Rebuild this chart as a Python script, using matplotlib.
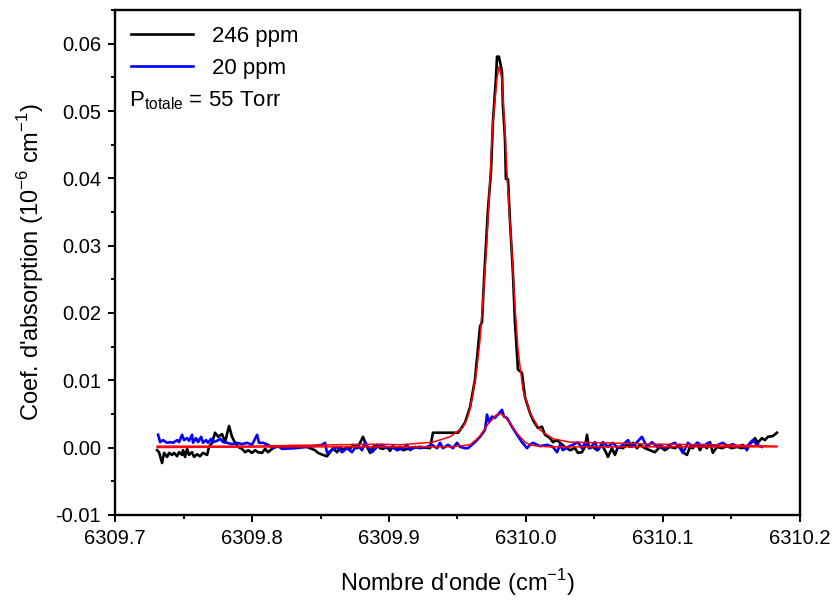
import matplotlib
matplotlib.use("Agg")
import matplotlib.pyplot as plt
from matplotlib.ticker import MultipleLocator, FormatStrFormatter

plt.rcParams['font.family'] = ['Liberation Sans', 'DejaVu Sans']
plt.rcParams['mathtext.fontset'] = 'custom'
plt.rcParams['mathtext.rm'] = 'Liberation Sans'

# 246 ppm spectrum
x_246 = [6309.7307, 6309.7321, 6309.7343, 6309.7358, 6309.7380, 6309.7394, 6309.7416, 6309.7431,
         6309.7453, 6309.7467, 6309.7489, 6309.7496, 6309.7511, 6309.7526, 6309.7540, 6309.7562,
         6309.7577, 6309.7599, 6309.7620, 6309.7642, 6309.7672, 6309.7686, 6309.7708, 6309.7730,
         6309.7752, 6309.7781, 6309.7803, 6309.7832, 6309.7854, 6309.7876, 6309.7898, 6309.7927,
         6309.7949, 6309.7971, 6309.8000, 6309.8022, 6309.8044, 6309.8073, 6309.8095, 6309.8117,
         6309.8146, 6309.8168, 6309.8278, 6309.8387, 6309.8460, 6309.8482, 6309.8518, 6309.8548,
         6309.8570, 6309.8591, 6309.8621, 6309.8643, 6309.8664, 6309.8694, 6309.8716, 6309.8737,
         6309.8767, 6309.8789, 6309.8810, 6309.8840, 6309.8862, 6309.8883, 6309.8913, 6309.8935,
         6309.8956, 6309.8986, 6309.9008, 6309.9029, 6309.9059, 6309.9081, 6309.9102, 6309.9154,
         6309.9227, 6309.9300, 6309.9321, 6309.9504, 6309.9519, 6309.9555, 6309.9592, 6309.9628,
         6309.9665, 6309.9679, 6309.9694, 6309.9716, 6309.9723, 6309.9745, 6309.9759, 6309.9781,
         6309.9789, 6309.9803, 6309.9825, 6309.9832, 6309.9847, 6309.9854, 6309.9869, 6309.9884,
         6309.9905, 6309.9920, 6309.9942, 6309.9971, 6309.9993, 6310.0030, 6310.0051, 6310.0088,
         6310.0117, 6310.0139, 6310.0176, 6310.0197, 6310.0227, 6310.0249, 6310.0285, 6310.0322,
         6310.0358, 6310.0380, 6310.0409, 6310.0431, 6310.0446, 6310.0460, 6310.0489, 6310.0519,
         6310.0555, 6310.0584, 6310.0599, 6310.0628, 6310.0650, 6310.0672, 6310.0708, 6310.0738,
         6310.0760, 6310.0781, 6310.0811, 6310.0833, 6310.0869, 6310.0906, 6310.0942, 6310.0979,
         6310.1015, 6310.1052, 6310.1088, 6310.1125, 6310.1146, 6310.1176, 6310.1198, 6310.1219,
         6310.1249, 6310.1271, 6310.1292, 6310.1322, 6310.1344, 6310.1365, 6310.1395, 6310.1431,
         6310.1468, 6310.1504, 6310.1541, 6310.1577, 6310.1614, 6310.1650, 6310.1672, 6310.1694,
         6310.1723, 6310.1745, 6310.1767, 6310.1803, 6310.1833]
y_246 = [-0.0004, -0.0007, -0.0023, -0.0008, -0.0014, -0.0008, -0.0011, -0.0008,
         -0.0013, -0.0007, -0.0011, -0.0004, -0.0014, -0.0002, -0.0011, -0.0007,
         -0.0014, -0.0010, -0.0013, -0.0008, -0.0011, 0.0001, 0.0007, 0.0022,
         0.0016, 0.0020, 0.0008, 0.0032, 0.0016, 0.0007, 0.0001, -0.0002,
         -0.0007, -0.0004, -0.0008, -0.0004, -0.0007, -0.0008, -0.0002, -0.0007,
         -0.0002, 0.0001, 0.0002, 0.0002, -0.0004, -0.0008, -0.0011, -0.0013,
         -0.0007, -0.0001, -0.0007, 0.0001, -0.0004, 0.0001, -0.0002, 0.0004,
         -0.0001, 0.0007, 0.0016, 0.0001, -0.0008, 0.0001, 0.0004, -0.0001,
         -0.0002, 0.0001, -0.0005, 0.0002, -0.0002, 0.0001, -0.0004, -0.0001,
         0.0001, -0.0001, 0.0022, 0.0022, 0.0026, 0.0037, 0.0060, 0.0101,
         0.0180, 0.0186, 0.0250, 0.0329, 0.0354, 0.0410, 0.0484, 0.0549,
         0.0581, 0.0581, 0.0559, 0.0508, 0.0459, 0.0399, 0.0399, 0.0335,
         0.0260, 0.0186, 0.0116, 0.0111, 0.0075, 0.0051, 0.0041, 0.0029,
         0.0031, 0.0019, 0.0014, 0.0008, 0.0011, 0.0007, 0.0001, -0.0004,
         -0.0001, -0.0008, -0.0007, 0.0001, 0.0019, -0.0001, 0.0001, -0.0004,
         0.0004, -0.0007, -0.0014, -0.0001, -0.0011, 0.0001, -0.0001, 0.0004,
         0.0001, 0.0007, -0.0001, 0.0004, -0.0001, -0.0004, -0.0007, 0.0001,
         -0.0004, 0.0001, -0.0001, 0.0004, -0.0007, -0.0011, 0.0001, -0.0001,
         0.0007, -0.0004, 0.0004, -0.0001, 0.0008, -0.0008, 0.0001, -0.0001,
         0.0002, -0.0001, 0.0001, -0.0001, 0.0002, 0.0008, 0.0014, 0.0007,
         0.0014, 0.0011, 0.0016, 0.0017, 0.0022]

# 20 ppm spectrum
x_20 = [6309.7314, 6309.7329, 6309.7350, 6309.7380, 6309.7402, 6309.7423, 6309.7453, 6309.7467,
        6309.7489, 6309.7504, 6309.7526, 6309.7540, 6309.7562, 6309.7569, 6309.7591, 6309.7606,
        6309.7628, 6309.7642, 6309.7664, 6309.7679, 6309.7701, 6309.7715, 6309.7745, 6309.7767,
        6309.7789, 6309.7818, 6309.7854, 6309.7891, 6309.7927, 6309.7964, 6309.8000, 6309.8037,
        6309.8051, 6309.8080, 6309.8117, 6309.8153, 6309.8190, 6309.8219, 6309.8314, 6309.8409,
        6309.8511, 6309.8533, 6309.8548, 6309.8584, 6309.8621, 6309.8657, 6309.8694, 6309.8730,
        6309.8767, 6309.8803, 6309.8825, 6309.8847, 6309.8876, 6309.8913, 6309.8949, 6309.8986,
        6309.9022, 6309.9059, 6309.9102, 6309.9132, 6309.9154, 6309.9190, 6309.9227, 6309.9278,
        6309.9314, 6309.9351, 6309.9373, 6309.9394, 6309.9431, 6309.9467, 6309.9497, 6309.9519,
        6309.9555, 6309.9577, 6309.9606, 6309.9628, 6309.9665, 6309.9701, 6309.9716, 6309.9730,
        6309.9752, 6309.9774, 6309.9796, 6309.9825, 6309.9840, 6309.9862, 6309.9898, 6309.9935,
        6309.9971, 6310.0008, 6310.0030, 6310.0051, 6310.0103, 6310.0154, 6310.0197, 6310.0227,
        6310.0249, 6310.0270, 6310.0307, 6310.0343, 6310.0380, 6310.0409, 6310.0431, 6310.0468,
        6310.0504, 6310.0526, 6310.0562, 6310.0599, 6310.0635, 6310.0672, 6310.0708, 6310.0745,
        6310.0774, 6310.0811, 6310.0847, 6310.0884, 6310.0920, 6310.0957, 6310.0979, 6310.1015,
        6310.1052, 6310.1088, 6310.1125, 6310.1146, 6310.1183, 6310.1219, 6310.1256, 6310.1292,
        6310.1329, 6310.1365, 6310.1402, 6310.1438, 6310.1475, 6310.1511, 6310.1548, 6310.1584,
        6310.1614, 6310.1636, 6310.1657, 6310.1687, 6310.1723]
y_20 = [0.0019, 0.0008, 0.0011, 0.0007, 0.0008, 0.0007, 0.0011, 0.0008,
        0.0019, 0.0011, 0.0014, 0.0010, 0.0019, 0.0007, 0.0014, 0.0008,
        0.0016, 0.0007, 0.0011, 0.0007, 0.0013, 0.0008, 0.0010, 0.0013,
        0.0008, 0.0007, 0.0005, 0.0007, 0.0005, 0.0007, 0.0004, 0.0019,
        0.0007, 0.0007, 0.0004, -0.0001, 0.0002, -0.0002, -0.0001, 0.0001,
        0.0004, 0.0007, -0.0008, -0.0004, 0.0001, -0.0007, -0.0001, -0.0007,
        0.0004, -0.0004, 0.0008, 0.0001, -0.0007, 0.0001, 0.0004, -0.0001,
        0.0001, -0.0004, -0.0001, 0.0004, -0.0004, 0.0001, -0.0001, 0.0001,
        0.0004, -0.0001, 0.0007, -0.0001, 0.0004, -0.0001, 0.0007, 0.0001,
        -0.0001, -0.0001, 0.0004, 0.0008, 0.0016, 0.0026, 0.0049, 0.0038,
        0.0046, 0.0044, 0.0049, 0.0056, 0.0046, 0.0044, 0.0031, 0.0019,
        0.0008, -0.0001, 0.0004, 0.0007, 0.0002, 0.0004, 0.0001, -0.0007,
        0.0004, -0.0004, 0.0001, 0.0004, 0.0008, -0.0001, 0.0007, -0.0001,
        0.0008, -0.0004, 0.0008, 0.0001, 0.0007, -0.0001, 0.0004, 0.0011,
        0.0001, 0.0008, 0.0016, 0.0001, 0.0008, 0.0001, 0.0004, -0.0001,
        0.0004, 0.0007, -0.0001, -0.0008, 0.0007, 0.0001, 0.0007, 0.0001,
        0.0007, 0.0002, 0.0004, 0.0007, 0.0002, 0.0005, 0.0001, 0.0004,
        -0.0004, 0.0007, 0.0011, 0.0004, 0.0001]

# fitted profiles
x_fit_246 = [6309.7307, 6309.7986, 6309.8570, 6309.8935, 6309.9081, 6309.9321, 6309.9446, 6309.9540,
             6309.9570, 6309.9592, 6309.9613, 6309.9643, 6309.9665, 6309.9686, 6309.9716, 6309.9738,
             6309.9759, 6309.9789, 6309.9803, 6309.9825, 6309.9847, 6309.9869, 6309.9898, 6309.9920,
             6309.9942, 6309.9978, 6310.0030, 6310.0103, 6310.0197, 6310.0322, 6310.0562, 6310.0927,
             6310.1417, 6310.1833]
y_fit_246 = [0.0002, 0.0002, 0.0004, 0.0005, 0.0004, 0.0008, 0.0016, 0.0030,
             0.0043, 0.0058, 0.0080, 0.0120, 0.0160, 0.0220, 0.0310, 0.0399,
             0.0484, 0.0549, 0.0566, 0.0549, 0.0469, 0.0380, 0.0290, 0.0210,
             0.0146, 0.0086, 0.0051, 0.0026, 0.0013, 0.0008, 0.0007, 0.0005,
             0.0004, 0.0002]

x_fit_20 = [6309.7307, 6309.8350, 6309.9081, 6309.9446, 6309.9592, 6309.9628, 6309.9665, 6309.9694,
            6309.9723, 6309.9752, 6309.9774, 6309.9796, 6309.9818, 6309.9840, 6309.9869, 6309.9898,
            6309.9927, 6309.9957, 6309.9993, 6310.0030, 6310.0088, 6310.0176, 6310.0906, 6310.1833]
y_fit_20 = [0.0000, 0.0001, 0.0001, 0.0001, 0.0004, 0.0010, 0.0017, 0.0026,
            0.0035, 0.0041, 0.0047, 0.0050, 0.0050, 0.0047, 0.0040, 0.0032,
            0.0023, 0.0016, 0.0008, 0.0004, 0.0002, 0.0001, 0.0001, 0.0001]

fig = plt.figure(figsize=(8.34, 6.0), dpi=100)
ax = fig.add_axes([0.138, 0.142, 0.821, 0.841])

ax.plot(x_246, y_246, color='black', lw=1.9, label='246 ppm')
ax.plot(x_20, y_20, color='blue', lw=1.9, label='20 ppm')
ax.plot(x_fit_246, y_fit_246, color='red', lw=1.1)
ax.plot(x_fit_20, y_fit_20, color='red', lw=1.1)

ax.set_xlim(6309.7, 6310.2)
ax.set_ylim(-0.01, 0.065)
ax.xaxis.set_major_locator(MultipleLocator(0.1))
ax.xaxis.set_minor_locator(MultipleLocator(0.05))
ax.yaxis.set_major_locator(MultipleLocator(0.01))
ax.yaxis.set_minor_locator(MultipleLocator(0.005))
ax.xaxis.set_major_formatter(FormatStrFormatter('%.1f'))
ax.yaxis.set_major_formatter(FormatStrFormatter('%.2f'))
ax.tick_params(which='both', direction='out', top=False, right=False, width=1.4, labelsize=14.5)
ax.tick_params(which='major', length=5, pad=5)
ax.tick_params(which='minor', length=3)
for s in ax.spines.values():
    s.set_linewidth(1.7)

ax.set_xlabel("Nombre d'onde (cm$^{-1}$)", fontsize=17, labelpad=14)
ax.set_ylabel("Coef. d'absorption (10$^{-6}$ cm$^{-1}$)", fontsize=17, labelpad=7)

leg = ax.legend(loc='upper left', frameon=False, fontsize=16, handlelength=2.8,
                handletextpad=0.85, borderaxespad=0.3, labelspacing=0.5)
ax.text(0.021, 0.82, "P$_{\\mathregular{totale}}$ = 55 Torr", transform=ax.transAxes,
        fontsize=16, va='center', ha='left')

fig.savefig('out.png', dpi=100)
